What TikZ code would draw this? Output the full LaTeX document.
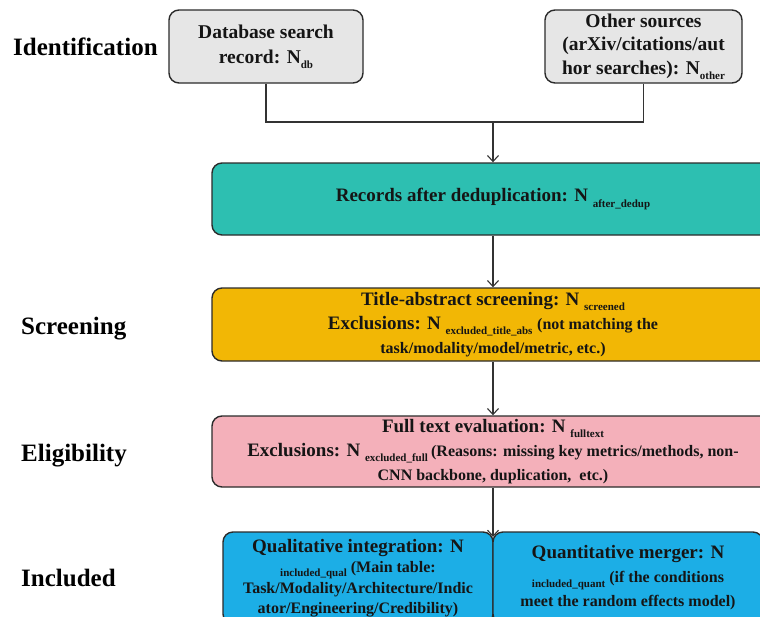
\documentclass[tikz,border=0pt]{standalone}
\usepackage{fontspec}
\setmainfont{Liberation Serif}
\usetikzlibrary{arrows.meta}
\definecolor{boxgray}{HTML}{E6E6E6}
\definecolor{tealbox}{HTML}{2DBFB1}
\definecolor{yelbox}{HTML}{F2B705}
\definecolor{pinkbox}{HTML}{F4B0BA}
\definecolor{bluebox}{HTML}{1CAEE6}
\definecolor{edgec}{HTML}{2B2B2B}
\definecolor{linec}{HTML}{333333}
\definecolor{txtc}{HTML}{151515}
\newcommand{\lowtxt}[1]{\raisebox{-0.6ex}{\fontsize{11}{11}\selectfont #1}}
\newcommand{\smallpart}[1]{{\fontsize{16}{24}\selectfont #1}}
\begin{document}
\begin{tikzpicture}[x=1pt,y=-1pt,
  box/.style={draw=edgec, line width=1.4pt, rounded corners=10pt, align=center,
    text=txtc, font=\bfseries\fontsize{19}{24}\selectfont, inner sep=2pt},
  lab/.style={font=\bfseries\fontsize{25}{28}\selectfont, anchor=west, text=black, inner sep=0pt},
  conn/.style={draw=linec, line width=1.1pt},
  arr/.style={conn, -{Straight Barb[length=6pt,width=11pt]}}]
\useasboundingbox (0,0) rectangle (760,616);
\clip (0,0) rectangle (760,616);

% stage labels
\node[lab] (lid) at (13,47) {Identification};
\node[lab] (lsc) at (21,329) {Screening};
\node[lab] (lel) at (21,456) {Eligibility};
\node[lab] (lin) at (21,578) {Included};

% boxes
\node[box, fill=boxgray, minimum width=194pt, minimum height=73pt,
  font=\bfseries\fontsize{19.5}{25}\selectfont] (db) at (266,46.5)
  {Database search\\record: N\lowtxt{db}};
\node[box, fill=boxgray, minimum width=197pt, minimum height=73pt,
  font=\bfseries\fontsize{19.5}{23.5}\selectfont] (other) at (643.5,46.5)
  {Other sources\\(arXiv/citations/aut\\hor searches): N\lowtxt{other}};
\coordinate (j) at (493,122);
\node[box, fill=tealbox, minimum width=562pt, minimum height=72pt] (dedup) at (493,199)
  {Records after deduplication: N \lowtxt{after\_dedup}};
\node[box, fill=yelbox, minimum width=562pt, minimum height=73pt] (screen) at (493,324.5)
  {Title-abstract screening: N \lowtxt{screened}\\
   Exclusions: N \lowtxt{excluded\_title\_abs} \smallpart{(not matching the}\\
   \smallpart{task/modality/model/metric, etc.)}};
\node[box, fill=pinkbox, minimum width=562pt, minimum height=71pt] (elig) at (493,451.5)
  {Full text evaluation: N \lowtxt{fulltext}\\
   Exclusions: N \lowtxt{excluded\_full}\,\smallpart{(Reasons: missing key metrics/methods, non-}\\
   \smallpart{CNN backbone, duplication, \ etc.)}};
\node[box, fill=bluebox, minimum width=270pt, minimum height=92pt,
  font=\bfseries\fontsize{19}{20.5}\selectfont] (qual) at (358,578)
  {Qualitative integration: N\\
   {\fontsize{16}{20.5}\selectfont\lowtxt{included\_qual} (Main table:}\\
   {\fontsize{16}{20.5}\selectfont Task/Modality/Architecture/Indic}\\
   {\fontsize{16}{20.5}\selectfont ator/Engineering/Credibility)}};
\node[box, fill=bluebox, minimum width=270pt, minimum height=92pt,
  font=\bfseries\fontsize{19}{24}\selectfont] (quant) at (628,578)
  {Quantitative merger: N\\
   {\fontsize{16}{24}\selectfont\lowtxt{included\_quant} (if the conditions}\\
   {\fontsize{16}{24}\selectfont meet the random effects model)}};
\coordinate (k) at (493,537);

% connectors
\draw[conn] (db.south) |- (j);
\draw[conn] (other.south) |- (j);
\draw[arr] (j) -- (dedup.north);
\draw[arr] (dedup.south) -- (screen.north);
\draw[arr] (screen.south) -- (elig.north);
\draw[arr] (elig.south) -- (k);
\end{tikzpicture}
\end{document}
